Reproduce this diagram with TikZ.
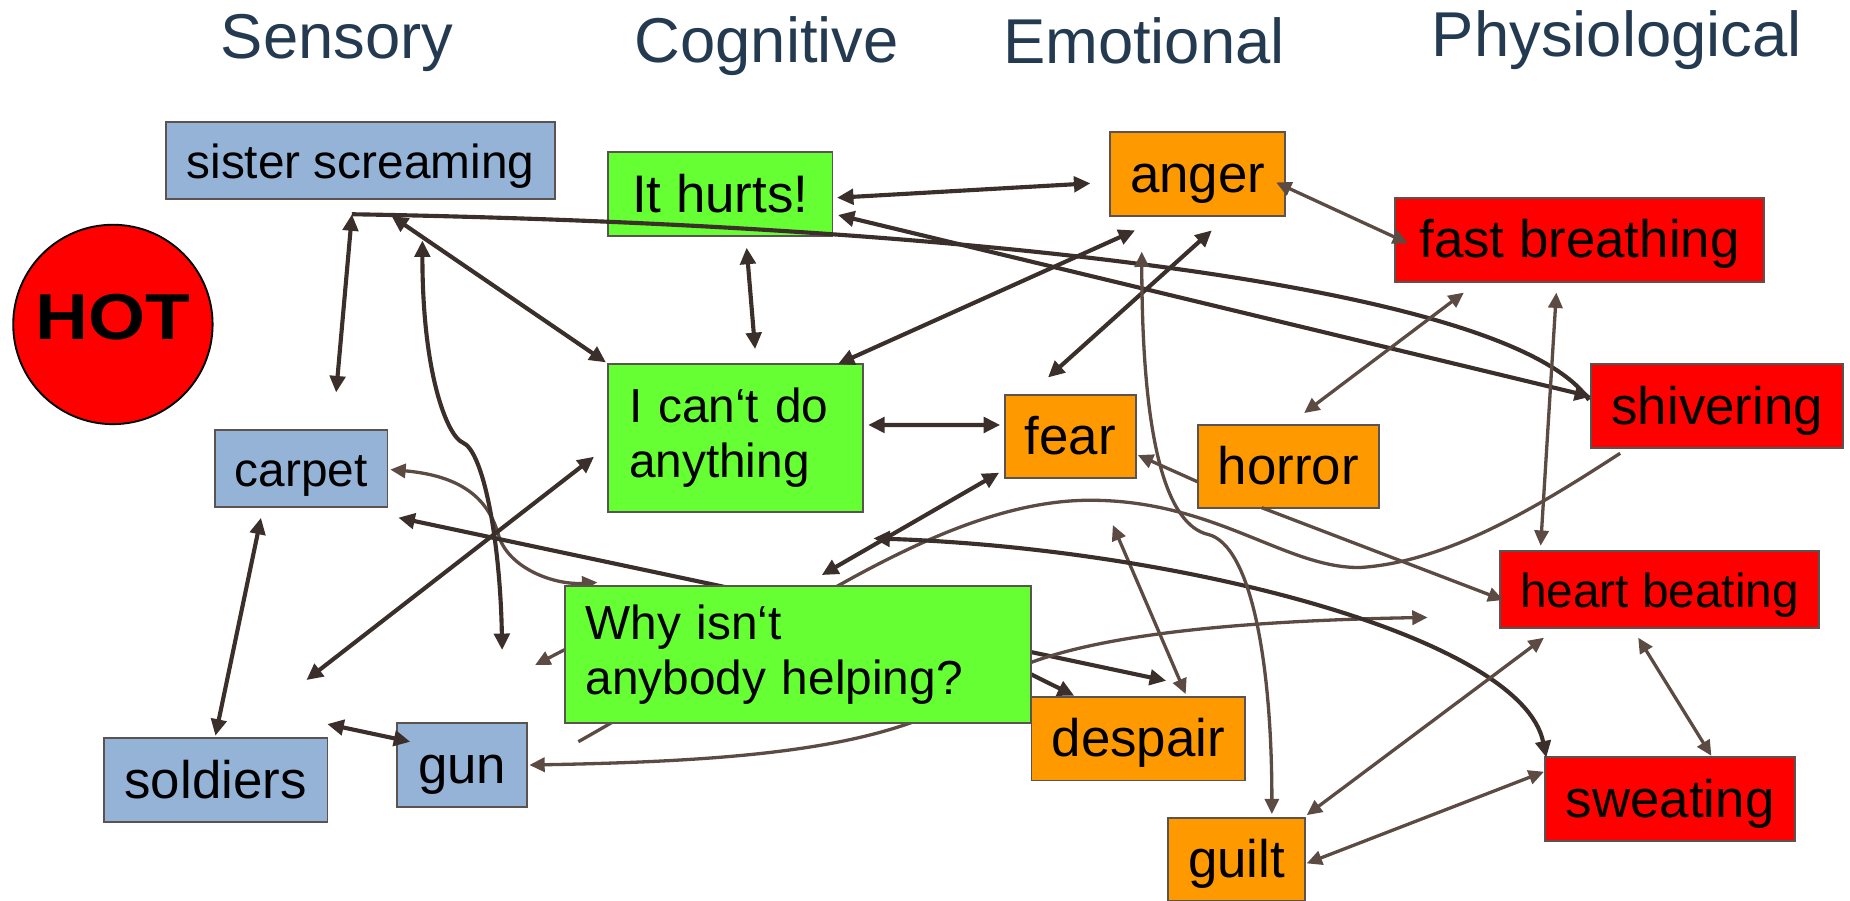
\documentclass[tikz,border=0pt]{standalone}
\usepackage{fontspec}
\usepackage{graphicx}
\setmainfont{Liberation Sans}
\usetikzlibrary{arrows.meta,calc}
\definecolor{sensfill}{HTML}{95B3D7}
\definecolor{cogfill}{HTML}{66FF33}
\definecolor{emofill}{HTML}{FF9900}
\definecolor{physfill}{HTML}{FF0000}
\definecolor{edgecol}{HTML}{5A5350}
\definecolor{hdrcol}{HTML}{243A51}
\definecolor{dkline}{HTML}{3A2F2A}
\definecolor{brline}{HTML}{5C4B43}
\pgfdeclarelayer{back}
\pgfsetlayers{back,main}

\begin{document}
\begin{tikzpicture}[x=0.5pt,y=-0.5pt,
  box/.style={draw=edgecol, line width=0.8pt, inner sep=0pt, text=black},
  one/.style={box, text height=17pt, text depth=1.5pt},
  sz/.style 2 args={minimum width={#1*0.5pt}, minimum height={#2*0.5pt}},
  sm/.style={font=\fontsize{20.25}{23.3}\selectfont},
  lg/.style={font=\fontsize{22.4}{26}\selectfont},
  sens/.style={fill=sensfill},
  cog/.style={fill=cogfill},
  emo/.style={fill=emofill},
  phys/.style={fill=physfill},
  hdr/.style={text=hdrcol, font=\fontsize{26.85}{32}\selectfont, anchor=base, inner sep=0pt},
  dk/.style={draw=dkline, line width=1.75pt, >={Triangle[length=7pt,width=6.5pt]}},
  br/.style={draw=brline, line width=1.4pt, >={Triangle[length=6.5pt,width=6pt]}},
]
\useasboundingbox (0,0) rectangle (1568,763);

% column headings
\node[hdr] (hsens) at (285.6,49.4) {Sensory};
\node[hdr] (hcog)  at (649.8,53.1) {Cognitive};
\node[hdr] (hemo)  at (969.5,53.7) {Emotional};
\node[hdr] (hphys) at (1370.4,48) {Physiological};

% the HOT badge
\node[circle, draw=black, line width=0.8pt, fill=physfill, minimum size=84.5pt,
      inner sep=0pt, text depth=6.5pt, font=\bfseries\fontsize{27.5}{30}\selectfont]
      (hot) at (95.7,275) {\scalebox{1.13}[1]{HOT}};

% sensory
\node[one,sm,sens,sz={329.6}{65.6}] (sister)   at (305.5,135.9) {sister screaming};
\node[one,sm,sens,sz={146.4}{65.3}] (carpet)   at (255.2,397.2) {carpet};
\node[one,lg,sens,sz={189.7}{71.2}] (soldiers) at (182.7,661.4) {soldiers};
\node[one,lg,sens,sz={109.9}{71.8}] (gun)      at (391.8,648.4) {gun};

% cognitive
\node[one,lg,cog,sz={190.3}{70.9}] (hurts) at (610.4,164.6) {It hurts!};
\node[box,sm,cog,sz={216.4}{124.9},align=left,text width=90.2pt,inner xsep=9pt]
      (cant) at (623.4,371.3) {I can‘t do\\anything};
\node[box,sm,cog,sz={395.2}{115.7},align=left,text width=180.4pt,inner xsep=8.6pt]
      (why) at (676.6,554.6) {Why isn‘t\\anybody helping?};

% emotional
\node[one,lg,emo,sz={148.5}{70.9}] (anger)   at (1015.2,147.7) {anger};
\node[one,lg,emo,sz={110.5}{70.9}] (fear)    at (907.2,370)    {fear};
\node[one,lg,emo,sz={153.6}{70.6}] (horror)  at (1092,395.5)   {horror};
\node[one,lg,emo,sz={181.3}{71}]   (despair) at (964.9,626)    {despair};
\node[one,lg,emo,sz={116}{71}]     (guilt)   at (1048,728.5)   {guilt};

% physiological
\node[one,lg,phys,sz={313.4}{71.2}] (breath) at (1338.7,203.1) {fast breathing};
\node[one,lg,phys,sz={213.8}{70.6}] (shiver) at (1455.5,344.1) {shivering};
\node[one,sm,phys,sz={270.2}{65.6}] (heart)  at (1406.6,499.8) {heart beating};
\node[one,lg,phys,sz={211.6}{70.9}] (sweat)  at (1415.6,677.4) {sweating};

% loose ends of connectors
\coordinate (sisterTail) at (425.6,551);
\coordinate (cantTail)   at (259.7,576.4);
\coordinate (whyTail)    at (453.5,563.7);
\coordinate (shiverTail) at (490.2,628.6);
\coordinate (gunTail)    at (1210,523.3);
\coordinate (despTail)   at (943.2,445);
\coordinate (fearTail)   at (696.5,487.4);
\coordinate (sweatTail)  at (740.2,456.3);
\coordinate (guiltTail)  at (967.7,213.3);

% connectors running underneath the "why" box
\begin{pgfonlayer}{back}
\draw[br,<->] ($(carpet.east)+(1.6,0.8)$) .. controls (400,404) and (416,430) .. (423,455)
      .. controls (432,482) and (470,496) .. ($(why.north west)+(28.2,-2.3)$);
\draw[dk,<->] ($(carpet.south east)+(8.4,8.1)$) -- ($(despair.north west)+(115,-12.7)$);
\draw[br,->] ($(why.west)+(60,-35)$) -- (whyTail);
\draw[br] (shiverTail) .. controls (640,545) and (790,424) .. (924,424)
      .. controls (1030,424) and (1090,482) .. (1153,481)
      .. controls (1230,476) and (1310,425) .. ($(shiver.south west)+(25.4,4)$);
\draw[br,<->] ($(gun.east)+(1.1,0)$) .. controls (640,645) and (760,633) .. (831,583)
      .. controls (870,556) and (950,528) .. (gunTail);
\draw[dk,->] ($(why.east)+(-35,0)$) -- ($(despair.north west)+(37,0)$);
\end{pgfonlayer}

% sensory links
\draw[dk,<->] ($(sister.south)+(-7.2,12.1)$) -- ($(carpet.north)+(29.7,-31.1)$);
\draw[dk,<->] ($(sister.south)+(26.3,13.5)$) -- ($(cant.north west)+(-0.8,-0.9)$);
\draw[dk,<->] ($(sister.south)+(52.5,34.3)$) .. controls (358,320) and (380,370) .. (392,375)
      .. controls (410,382) and (424,460) .. (sisterTail);
\draw[dk] ($(sister.south)+(-7.2,12.1)$) .. controls (800,190) and (1280,240) .. ($(shiver.west)+(-1.1,-5.1)$);
\draw[dk,<->] ($(cant.west)+(-10.9,15.8)$) -- (cantTail);
\draw[dk,<->] ($(carpet.south)+(-34,8.2)$) -- ($(soldiers.north)+(-0.1,-1.4)$);
\draw[dk,<->] ($(soldiers.north east)+(-1,-11.3)$) -- ($(gun.west)+(11.7,-19.7)$);

% cognitive links
\draw[dk,<->] ($(hurts.east)+(3.8,17.6)$) -- ($(shiver.west)+(0.8,-7.9)$);
\draw[dk,<->] ($(hurts.east)+(3,3)$) -- ($(anger.west)+(-15.9,7.7)$);
\draw[dk,<->] ($(hurts.south)+(22.4,9.1)$) -- ($(cant.north)+(16.6,-12.1)$);
\draw[dk,<->] ($(cant.north east)+(-22.3,0.6)$) -- ($(anger.south west)+(21.9,11.3)$);
\draw[dk,<->] ($(cant.east)+(3.4,-11.1)$) -- ($(fear.west)+(-3.4,-9.8)$);

% emotional links
\draw[dk,<->] ($(fear.north west)+(37.1,-13.8)$) -- ($(anger.south)+(11.9,11.3)$);
\draw[dk,<->] ($(fear.south west)+(-4.3,-5.6)$) -- (fearTail);
\draw[br,<->] ($(despair.north west)+(131.5,-1.4)$) -- (despTail);
\draw[dk,<->] (sweatTail) .. controls (1000,465) and (1290,540) .. ($(sweat.north west)+(1.6,0.9)$);
\draw[br,->] ($(horror.west)+(0.5,12.8)$) -- ($(fear.east)+(1.1,15.7)$);
\draw[br,->] ($(horror.south west)+(55,-1.3)$) -- ($(heart.west)+(3.5,8.8)$);
\draw[br,<->] (guiltTail) .. controls (968,380) and (990,445) .. (1024,453)
      .. controls (1060,462) and (1078,560) .. ($(guilt.north)+(30,-2.2)$);

% physiological links
\draw[br,<->] ($(anger.north east)+(-8.7,43.2)$) -- ($(breath.west)+(12.2,3.1)$);
\draw[br,<->] ($(breath.south west)+(59.5,8.5)$) -- ($(horror.north)+(13.3,-9.3)$);
\draw[br,<->] ($(breath.south)+(-19.6,8.5)$) -- ($(heart.north west)+(35.1,-3.6)$);
\draw[br,<->] ($(heart.south west)+(37.9,7.1)$) -- ($(guilt.north east)+(0.7,-1.3)$);
\draw[br,<->] ($(heart.south)+(-18.1,7.1)$) -- ($(sweat.north)+(34.9,-0.5)$);
\draw[br,<->] ($(guilt.east)+(0.7,3.3)$) -- ($(sweat.west)+(-0.4,-23.3)$);
\end{tikzpicture}
\end{document}
